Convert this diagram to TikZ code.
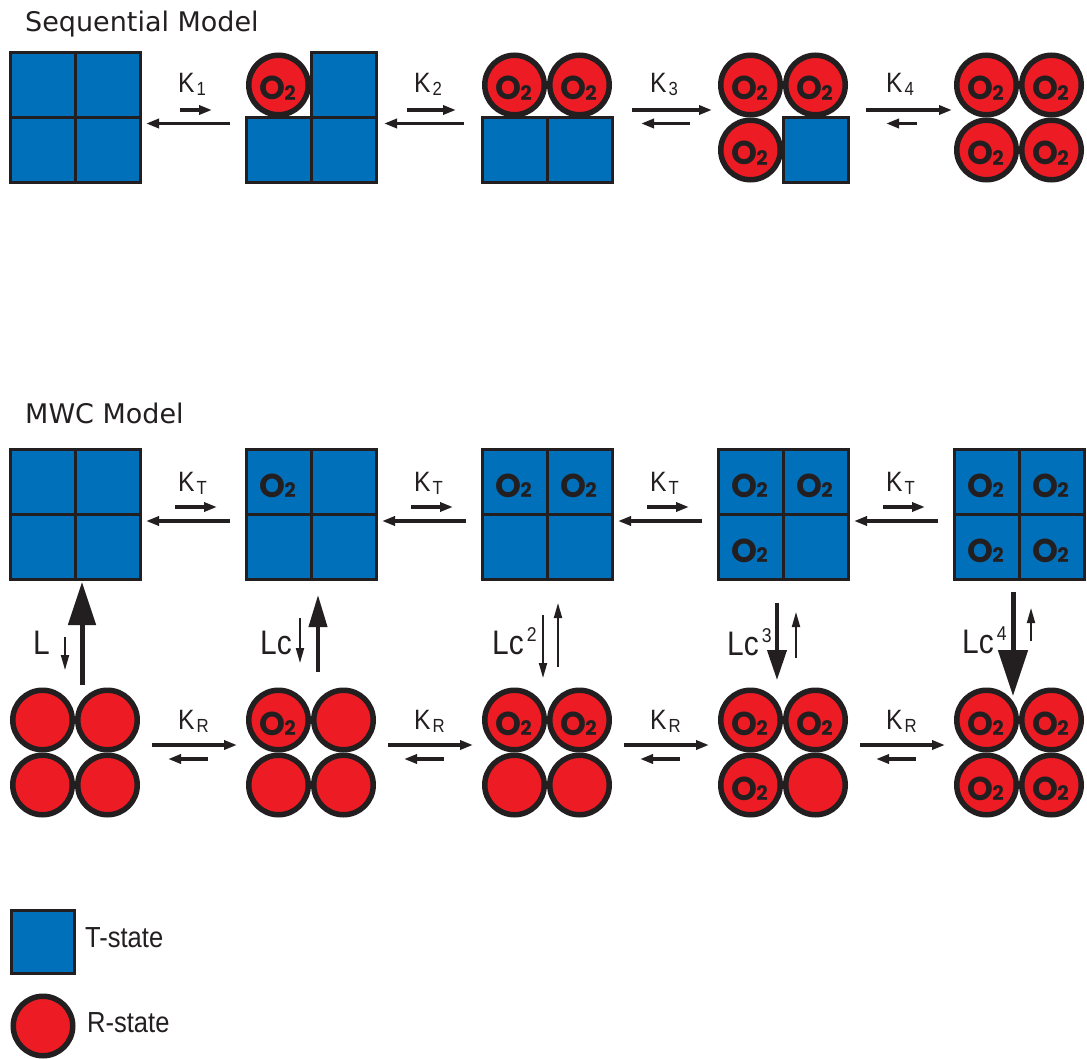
\documentclass[tikz,border=0pt]{standalone}
\usepackage{fontspec}
\setmainfont{Liberation Sans}
\newfontfamily\titlefnt{DejaVu Sans}
\newfontfamily\condfnt[FakeStretch=0.88]{Liberation Sans}
\newfontfamily\oxfnt{Poppins}
\usetikzlibrary{arrows.meta}
\definecolor{tblue}{RGB}{0,112,186}
\definecolor{rred}{RGB}{237,28,36}
\definecolor{inkc}{RGB}{35,31,32}
\newcommand\kSub[1]{\kern2pt\raisebox{-3pt}{\fontsize{19}{19}\selectfont #1}}
\newcommand\lSup[1]{\kern3pt\raisebox{13pt}{\fontsize{20}{20}\selectfont #1}}
\newcommand\oxtwo{O\kern-1pt\raisebox{-0.5pt}{\fontsize{20}{20}\selectfont 2}}
\tikzset{
 tcell/.style={rectangle, draw=inkc, fill=tblue, line width=3pt, minimum size=65pt, inner sep=0pt},
 rcell/.style={circle, draw=inkc, fill=rred, line width=5.5pt, minimum size=59.5pt, inner sep=0pt},
 oxy/.style={anchor=base, inner sep=0pt, text=inkc, font=\oxfnt\bfseries\fontsize{33}{33}\selectfont},
 klab/.style={anchor=base west, inner sep=0pt, text=inkc, font=\condfnt\fontsize{28}{28}\selectfont},
 llab/.style={anchor=base west, inner sep=0pt, text=inkc, font=\condfnt\fontsize{34}{34}\selectfont},
 mytitle/.style={anchor=base west, inner sep=0pt, text=inkc, font=\titlefnt\fontsize{27}{27}\selectfont},
 leglab/.style={anchor=base west, inner sep=0pt, text=inkc, font=\condfnt\fontsize{29}{29}\selectfont},
 harr/.style={draw=inkc, line width=3.3pt, -{Triangle[length=13pt,width=9pt]}},
 thinarr/.style={draw=inkc, line width=1.8pt, -{Triangle[length=15pt,width=8pt]}},
}
\begin{document}
\begin{tikzpicture}[x=1pt,y=-1pt]
\fill[white] (0,0) rectangle (1087,1059);
\useasboundingbox (0,0) rectangle (1087,1059);

% titles
\node[mytitle] (titleSeq) at (25,32) {Sequential Model};
\node[mytitle] (titleMWC) at (25,423) {MWC Model};

% ---------- Sequential model ----------
\foreach \k in {0,...,4}{
  \foreach \i/\dx/\dy in {1/-32.5/-32.5, 2/32.5/-32.5, 3/-32.5/32.5, 4/32.5/32.5}{
    \pgfmathsetmacro\px{75+236*\k+\dx}
    \pgfmathsetmacro\sy{117.5+\dy}
    \ifnum\i>\k
      \node[tcell] (s\k-\i) at (\px,\sy) {};
    \else
      \node[rcell] (s\k-\i) at (\px,\sy) {};
      \node[oxy] (so\k-\i) at (\px-1,\sy+15) {\oxtwo};
    \fi
  }
}

% sequential arrows
\coordinate (a1s) at (180,110); \coordinate (a1e) at (212,110);
\coordinate (b1s) at (230,123.5); \coordinate (b1e) at (146,123.5);
\coordinate (a2s) at (407,110); \coordinate (a2e) at (456,110);
\coordinate (b2s) at (464,123.5); \coordinate (b2e) at (384,123.5);
\coordinate (a3s) at (632,110); \coordinate (a3e) at (712,110);
\coordinate (b3s) at (690,123.5); \coordinate (b3e) at (641,123.5);
\coordinate (a4s) at (866,110); \coordinate (a4e) at (952,110);
\coordinate (b4s) at (917,123.5); \coordinate (b4e) at (886,123.5);
\foreach \j in {1,...,4}{
  \draw[harr] (a\j s) -- (a\j e);
  \draw[harr] (b\j s) -- (b\j e);
  \node[klab] (kseq\j) at (178+236*\j-236,93) {K\kSub{\j}};
}

% ---------- MWC model ----------
\foreach \k in {0,...,4}{
  \foreach \i/\dx/\dy in {1/-32.5/-32.5, 2/32.5/-32.5, 3/-32.5/32.5, 4/32.5/32.5}{
    \pgfmathsetmacro\px{75+236*\k+\dx}
    \pgfmathsetmacro\ty{514.5+\dy}
    \pgfmathsetmacro\ry{752.5+\dy}
    \node[tcell] (t\k-\i) at (\px,\ty) {};
    \node[rcell] (r\k-\i) at (\px,\ry) {};
    \ifnum\i>\k\else
      \node[oxy] (to\k-\i) at (\px-1,\ty+15) {\oxtwo};
      \node[oxy] (ro\k-\i) at (\px-1,\ry+15) {\oxtwo};
    \fi
  }
}

% horizontal MWC arrows
\foreach \j in {0,...,3}{
  \coordinate (tas\j) at (175+236*\j,507); \coordinate (tae\j) at (217+236*\j,507);
  \coordinate (tbs\j) at (230+236*\j,521); \coordinate (tbe\j) at (146+236*\j,521);
  \draw[harr] (tas\j) -- (tae\j);
  \draw[harr] (tbs\j) -- (tbe\j);
  \node[klab] (kt\j) at (178+236*\j,491) {K\kSub{T}};
  \coordinate (ras\j) at (152+236*\j,745); \coordinate (rae\j) at (237+236*\j,745);
  \coordinate (rbs\j) at (208+236*\j,759); \coordinate (rbe\j) at (168+236*\j,759);
  \draw[harr] (ras\j) -- (rae\j);
  \draw[harr] (rbs\j) -- (rbe\j);
  \node[klab] (kr\j) at (178+236*\j,729) {K\kSub{R}};
}

% vertical arrows
\coordinate (v0a) at (82,685); \coordinate (v0b) at (82,582);
\draw[draw=inkc, line width=5pt, -{Triangle[length=43pt,width=27pt]}] (v0a) -- (v0b);
\coordinate (w0a) at (65,637); \coordinate (w0b) at (65,670);
\draw[thinarr] (w0a) -- (w0b);

\coordinate (v1a) at (318,672); \coordinate (v1b) at (318,595);
\draw[draw=inkc, line width=4pt, -{Triangle[length=32pt,width=18pt]}] (v1a) -- (v1b);
\coordinate (w1a) at (300,618); \coordinate (w1b) at (300,663);
\draw[thinarr] (w1a) -- (w1b);

\coordinate (w2a) at (543,615); \coordinate (w2b) at (543,678);
\draw[thinarr] (w2a) -- (w2b);
\coordinate (v2a) at (558,667); \coordinate (v2b) at (558,603);
\draw[thinarr] (v2a) -- (v2b);

\coordinate (v3a) at (777,603); \coordinate (v3b) at (777,680);
\draw[draw=inkc, line width=4pt, -{Triangle[length=30pt,width=19pt]}] (v3a) -- (v3b);
\coordinate (w3a) at (796,658); \coordinate (w3b) at (796,612);
\draw[thinarr] (w3a) -- (w3b);

\coordinate (v4a) at (1013,592); \coordinate (v4b) at (1013,696);
\draw[draw=inkc, line width=5pt, -{Triangle[length=46pt,width=29pt]}] (v4a) -- (v4b);
\coordinate (w4a) at (1031,641); \coordinate (w4b) at (1031,608);
\draw[thinarr] (w4a) -- (w4b);

% L labels
\node[llab] (l0) at (33,654) {L};
\node[llab] (l1) at (260,654) {Lc};
\node[llab] (l2) at (492,654) {Lc\lSup{2}};
\node[llab] (l3) at (727,655) {Lc\lSup{3}};
\node[llab] (l4) at (962,653) {Lc\lSup{4}};

% legend
\node[tcell, minimum size=63pt] (legT) at (42.5,941.5) {};
\node[rcell] (legR) at (43,1026) {};
\node[leglab] (legTt) at (85,947) {T-state};
\node[leglab] (legRt) at (87,1032) {R-state};
\end{tikzpicture}
\end{document}
